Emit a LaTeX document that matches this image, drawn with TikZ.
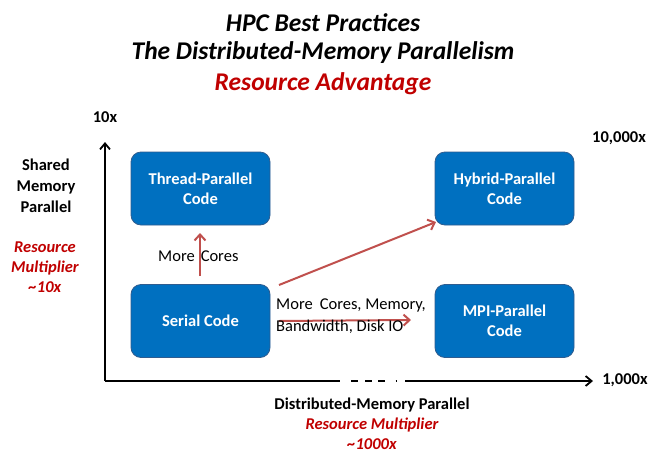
\documentclass[tikz,border=0pt]{standalone}
\usepackage{fontspec}
\setmainfont{Carlito}
\usetikzlibrary{arrows.meta}
\definecolor{boxblue}{HTML}{0070C0}
\definecolor{boxedge}{HTML}{2F5C8F}
\definecolor{arrred}{HTML}{C0504D}
\definecolor{titlered}{HTML}{C00000}
\begin{document}
\begin{tikzpicture}[x=1pt,y=-1pt,
  codebox/.style={draw=boxedge, line width=0.8pt, fill=boxblue, rounded corners=10pt,
    minimum width=139pt, minimum height=73pt, text=white, align=center, inner sep=0pt,
    font=\bfseries\fontsize{16.5}{20}\selectfont},
  titletext/.style={font=\bfseries\itshape\fontsize{25.5}{30}\selectfont, inner sep=0pt},
  lbl/.style={font=\bfseries\fontsize{16.5}{21}\selectfont, align=center, inner sep=0pt},
  redlbl/.style={font=\bfseries\itshape\fontsize{16.5}{20}\selectfont, text=titlered, align=center, inner sep=0pt},
  plain/.style={font=\fontsize{16.5}{22}\selectfont, inner sep=0pt},
  axis/.style={line width=1.8pt, black},
  redarrow/.style={line width=2pt, arrred, -{Straight Barb[length=6pt,width=11pt,line width=2pt]}}
]
\useasboundingbox (0,0) rectangle (649,453);

% title
\node[titletext] (t1) at (323,23) {HPC Best Practices};
\node[titletext] (t2) at (323,53) {The Distributed-Memory Parallelism};
\node[titletext, text=titlered] (t3) at (323,84) {Resource Advantage};

% axes
\coordinate (origin) at (105,381);
\coordinate (ytop) at (105,142);
\coordinate (xbreak1) at (340,381);
\coordinate (xbreak2) at (405,381);
\coordinate (xend) at (593,381);
\draw[axis, -{Straight Barb[length=6pt,width=10pt,line width=1.8pt]}] (origin) -- (ytop);
\draw[axis] (origin) -- (xbreak1);
\draw[axis, -{Straight Barb[length=6pt,width=10pt,line width=1.8pt]}] (xbreak2) -- (xend);
\draw[axis] (351,381) -- (358,381);
\draw[axis] (365,381) -- (372,381);
\draw[axis] (378,381) -- (385,381);
\draw[axis] (395.5,381) -- (397,381);

% axis labels
\node[lbl] (tenx) at (105,117) {10x};
\node[lbl] (tenk) at (619,138) {10,000x};
\node[lbl] (onek) at (625,380) {1,000x};
\node[lbl] (shared) at (46,186) {Shared\\Memory\\Parallel};
\node[redlbl] (rm1) at (45,267) {Resource\\Multiplier\\\textasciitilde10x};
\node[lbl] (dist) at (372,405) {Distributed-Memory Parallel};
\node[redlbl] (rm2) at (372,434) {Resource Multiplier\\\textasciitilde1000x};

% boxes
\node[codebox] (thread) at (200.5,188.5) {Thread-Parallel\\Code};
\node[codebox] (serial) at (200.5,321) {Serial Code};
\node[codebox] (hybrid) at (504.5,188.5) {Hybrid-Parallel\\Code};
\node[codebox] (mpi) at (504.5,321) {MPI-Parallel\\Code};

% red arrows
\node[plain, anchor=base west] (mc) at (158,261) {More\hspace{6pt}Cores};
\coordinate (vstart) at (200,276);
\coordinate (vend) at (200,233);
\draw[redarrow] (vstart) -- (vend);
\coordinate (dstart) at (279,285);
\coordinate (dend) at (436,222);
\draw[redarrow] (dstart) -- (dend);
\coordinate (hstart) at (279,321);
\coordinate (hend) at (411,320);
\draw[redarrow] (hstart) -- (hend);
\node[plain, anchor=north west, align=left] (res) at (276,299) {More\hspace{7pt}Cores, Memory,\\Bandwidth, Disk IO};
\end{tikzpicture}
\end{document}
